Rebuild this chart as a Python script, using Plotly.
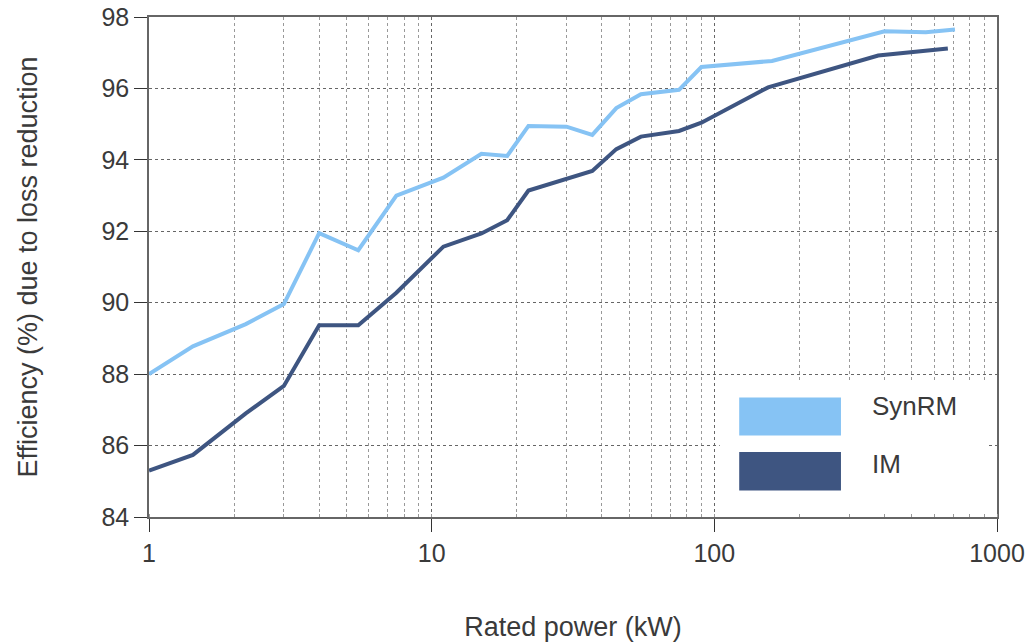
import plotly.graph_objects as go

# Rated power (kW) and efficiency (%) for each motor type
synrm_power = [1, 1.43, 2.2, 3, 4, 5.5, 7.5, 11, 15, 18.5, 22, 30, 37, 45, 55, 75, 90, 160, 400, 560, 710]
synrm_eff = [88.0, 88.78, 89.4, 89.96, 91.95, 91.47, 93.0, 93.5, 94.17, 94.11, 94.95, 94.93, 94.7,
             95.45, 95.84, 95.96, 96.6, 96.77, 97.6, 97.57, 97.65]

im_power = [1, 1.43, 2.2, 3, 4, 5.5, 7.5, 11, 15, 18.5, 22, 30, 37, 45, 55, 75, 90, 155, 380, 670]
im_eff = [85.3, 85.74, 86.9, 87.67, 89.37, 89.37, 90.28, 91.57, 91.94, 92.31, 93.14, 93.48, 93.69,
          94.3, 94.65, 94.81, 95.04, 96.03, 96.92, 97.12]

series_names = ["SynRM", "IM"]
series_colors = ["#86C3F4", "#3E5581"]

y_ticks = [84, 86, 88, 90, 92, 94, 96, 98]
x_ticks = [1, 10, 100, 1000]

FONT = "Liberation Sans"
TEXT = "#3a3a3a"
FS_TICK = 25
FS = 26
FS_TITLE = 27

fig = go.Figure()
for name, xs, ys, col in zip(series_names, [synrm_power, im_power], [synrm_eff, im_eff], series_colors):
    fig.add_trace(go.Scatter(x=xs, y=ys, mode="lines", name=name,
                             line=dict(color=col, width=4), showlegend=False))

# Legend panel: white box over the grid, with large colour swatches
shapes = [dict(type="rect", xref="paper", yref="paper", layer="above",
               x0=0.673, x1=0.988, y0=0.008, y1=0.268,
               fillcolor="white", line=dict(width=0))]
annotations = []
swatch_rows = [(0.239, 0.163, 0.222), (0.130, 0.053, 0.106)]
for (top, bot, ty), name, col in zip(swatch_rows, series_names, series_colors):
    shapes.append(dict(type="rect", xref="paper", yref="paper", layer="above",
                       x0=0.696, x1=0.816, y0=bot, y1=top,
                       fillcolor=col, line=dict(width=0)))
    annotations.append(dict(xref="paper", yref="paper", x=0.850, y=ty,
                            text=name, showarrow=False, xanchor="left", yanchor="middle",
                            font=dict(family=FONT, size=FS, color=TEXT)))

fig.update_layout(
    width=1025, height=642,
    margin=dict(l=149, r=28, t=17, b=125),
    paper_bgcolor="white", plot_bgcolor="white",
    font=dict(family=FONT, color=TEXT),
    shapes=shapes, annotations=annotations,
    xaxis=dict(
        type="log", range=[0, 3], automargin=False,
        tickvals=x_ticks, ticktext=[str(v) for v in x_ticks],
        ticks="outside", ticklen=13, tickcolor="#333", tickwidth=1,
        tickfont=dict(size=FS_TICK, color=TEXT),
        showline=True, linecolor="#666", linewidth=1.5, mirror=True,
        showgrid=True, gridcolor="#666", griddash="dot", gridwidth=1,
        minor=dict(dtick="D1", showgrid=True, gridcolor="#999", griddash="dot",
                   gridwidth=1, ticks="inside", ticklen=3, tickcolor="#999"),
        title=dict(text="Rated power (kW)", font=dict(size=FS_TITLE, color=TEXT), standoff=53),
        zeroline=False,
    ),
    yaxis=dict(
        range=[84, 98], tickvals=y_ticks, automargin=False,
        ticks="outside", ticklen=13, tickcolor="#333", tickwidth=1,
        tickfont=dict(size=FS_TICK, color=TEXT),
        showline=True, linecolor="#666", linewidth=1.5, mirror=True,
        showgrid=True, gridcolor="#666", griddash="dot", gridwidth=1,
        title=dict(text="Efficiency (%) due to loss reduction",
                   font=dict(size=FS_TITLE, color=TEXT), standoff=56),
        zeroline=False,
    ),
)

fig.write_html("out.html")
